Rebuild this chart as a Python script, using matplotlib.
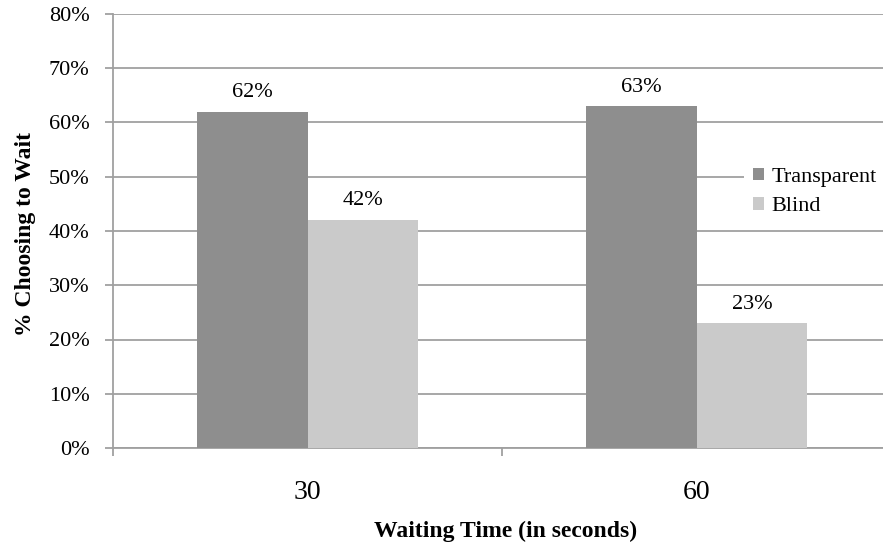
import matplotlib
matplotlib.use("Agg")
import matplotlib.pyplot as plt
import numpy as np
from matplotlib.ticker import FixedLocator, NullFormatter

# Data
categories = ["30", "60"]
series_names = ["Transparent", "Blind"]
transparent = [62, 63]
blind = [42, 23]
y_ticks = [0, 10, 20, 30, 40, 50, 60, 70, 80]
y_tick_labels = ["0%", "10%", "20%", "30%", "40%", "50%", "60%", "70%", "80%"]

colors = ["#8e8e8e", "#cacaca"]
grid_color = "#a0a0a0"

plt.rcParams["font.family"] = ["Liberation Serif", "DejaVu Serif"]

fig = plt.figure(figsize=(8.83, 5.48), dpi=100)
ax = fig.add_axes([113 / 883, 100 / 548, 778 / 883, 434 / 548])

x = np.arange(len(categories))
width = 0.285
series = [transparent, blind]
for i, (name, vals) in enumerate(zip(series_names, series)):
    offs = (i - 0.5) * width
    bars = ax.bar(x + offs, vals, width, color=colors[i], label=name, zorder=3)
    for b, v in zip(bars, vals):
        ax.annotate(f"{v}%", (b.get_x() + b.get_width() / 2, v),
                    xytext=(0, 7), textcoords="offset points",
                    ha="center", va="bottom", fontsize=16, zorder=4)

ax.set_xlim(-0.5, len(categories) - 0.5)
ax.set_ylim(0, 80)

ax.set_yticks(y_ticks)
ax.set_yticklabels(y_tick_labels, fontsize=16)
ax.yaxis.grid(True, color=grid_color, linewidth=1.3, zorder=0)
ax.set_axisbelow(True)

# Category boundaries carry the tick marks; labels sit at the centres
ax.xaxis.set_major_locator(FixedLocator(np.arange(-0.5, len(categories), 1.0)))
ax.xaxis.set_major_formatter(NullFormatter())
ax.xaxis.set_minor_locator(FixedLocator(x))
ax.set_xticklabels(categories, minor=True, fontsize=20)
ax.tick_params(axis="x", which="minor", length=0, pad=23)
ax.tick_params(axis="x", which="major", length=6, color=grid_color, width=1.3)
ax.tick_params(axis="y", length=6, color=grid_color, width=1.3, pad=11)

for s in ["top", "right"]:
    ax.spines[s].set_visible(False)
for s in ["left", "bottom"]:
    ax.spines[s].set_color(grid_color)
    ax.spines[s].set_linewidth(1.3)

fig.text(506 / 883, 1 - 531 / 548, "Waiting Time (in seconds)", ha="center",
         va="center", fontsize=17, fontweight="bold")
fig.text(26 / 883, 1 - 234 / 548, "% Choosing to Wait", ha="center",
         va="center", rotation=90, fontsize=17, fontweight="bold")

leg = ax.legend(loc="center left", bbox_to_anchor=(744 / 883, 1 - 192 / 548),
                bbox_transform=fig.transFigure, frameon=True, fontsize=16,
                handlelength=0.5, handleheight=0.5, handletextpad=0.35,
                labelspacing=0.45, borderpad=0.4, borderaxespad=0)
leg.get_frame().set_facecolor("white")
leg.get_frame().set_edgecolor("none")
leg.get_frame().set_alpha(1)
leg.get_frame().set_boxstyle("square", pad=0)

fig.savefig("out.png", dpi=100)
